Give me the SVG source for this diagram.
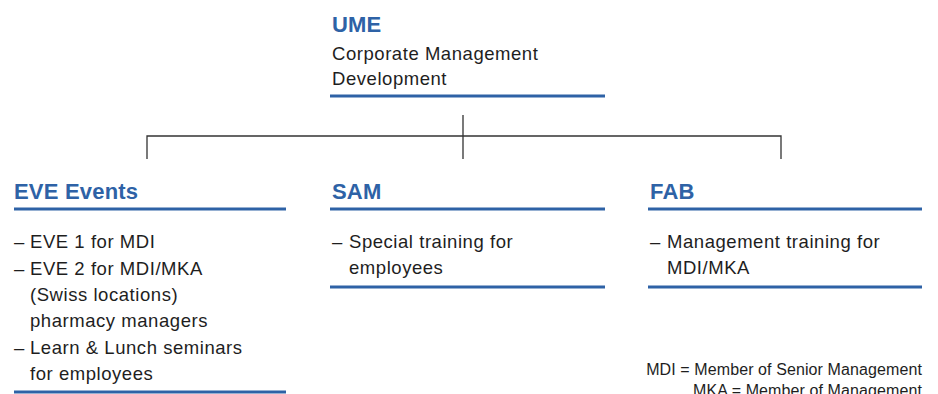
<svg xmlns="http://www.w3.org/2000/svg" width="938" height="394" viewBox="0 0 938 394">
<style>
.t{font-family:"Liberation Sans",Arial,sans-serif;fill:#1e1e1e;font-size:18.5px;letter-spacing:0.55px}
.h{font-family:"Liberation Sans",Arial,sans-serif;fill:#2e62a6;font-size:22px;font-weight:bold;letter-spacing:0.2px}
.f{font-family:"Liberation Sans",Arial,sans-serif;fill:#1e1e1e;font-size:16px;text-anchor:end;letter-spacing:0.1px}
.bl{stroke:#2e62a6;stroke-width:3;fill:none}
.c{stroke:#333;stroke-width:1.3;fill:none}
</style>
<rect width="938" height="394" fill="#fff"/>
<g id="connectors">
<path class="c" d="M463 115V159M147 159V136H781V159"/>
</g>
<g id="ume">
<text class="h" x="332" y="32">UME</text>
<text class="t" x="332" y="60">Corporate Management</text>
<text class="t" x="332" y="85">Development</text>
<line class="bl" x1="330" y1="96" x2="605" y2="96"/>
</g>
<g id="eve">
<text class="h" x="14" y="199">EVE Events</text>
<line class="bl" x1="14" y1="209" x2="286" y2="209"/>
<text class="t" x="14" y="248">–</text><text class="t" x="30" y="248">EVE 1 for MDI</text>
<text class="t" x="14" y="275">–</text><text class="t" x="30" y="275">EVE 2 for MDI/MKA</text>
<text class="t" x="30" y="301">(Swiss locations)</text>
<text class="t" x="30" y="327">pharmacy managers</text>
<text class="t" x="14" y="354">–</text><text class="t" x="30" y="354">Learn &amp; Lunch seminars</text>
<text class="t" x="30" y="380">for employees</text>
<line class="bl" x1="14" y1="392" x2="286" y2="392"/>
</g>
<g id="sam">
<text class="h" x="332" y="199">SAM</text>
<line class="bl" x1="330" y1="209" x2="605" y2="209"/>
<text class="t" x="332" y="248">–</text><text class="t" x="349" y="248">Special training for</text>
<text class="t" x="349" y="274">employees</text>
<line class="bl" x1="330" y1="287" x2="605" y2="287"/>
</g>
<g id="fab">
<text class="h" x="650" y="199">FAB</text>
<line class="bl" x1="648" y1="209" x2="922" y2="209"/>
<text class="t" x="650" y="248">–</text><text class="t" x="667" y="248">Management training for</text>
<text class="t" x="667" y="274">MDI/MKA</text>
<line class="bl" x1="648" y1="287" x2="922" y2="287"/>
</g>
<g id="legend">
<text class="f" x="922" y="375">MDI = Member of Senior Management</text>
<text class="f" x="922" y="396">MKA = Member of Management</text>
</g>
</svg>
